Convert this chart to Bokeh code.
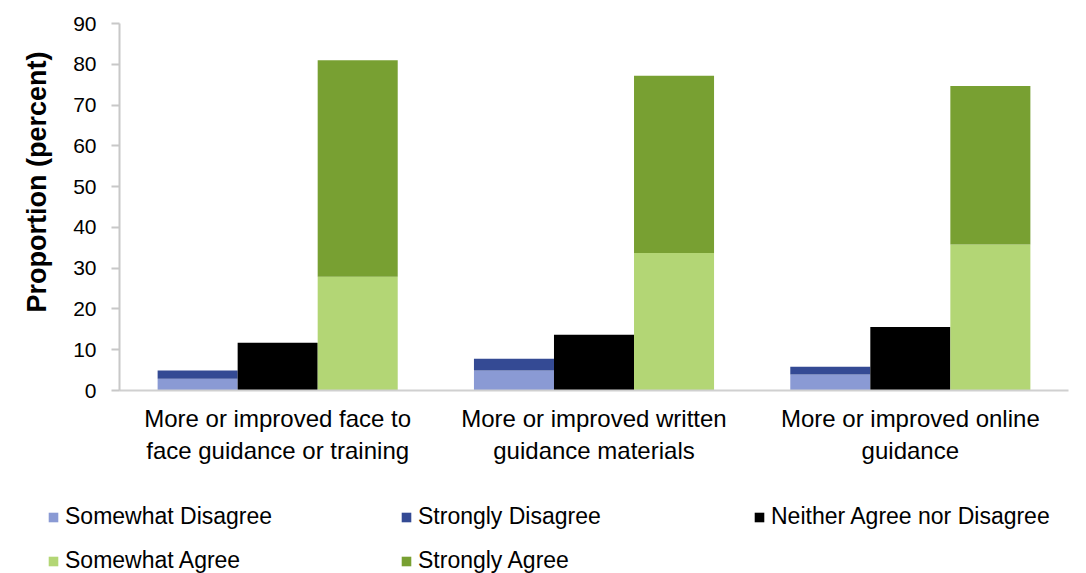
from bokeh.plotting import figure
from bokeh.models import ColumnDataSource, FactorRange, Range1d, Legend, LegendItem, Title
from bokeh.transform import dodge
from bokeh.layouts import column
from bokeh.embed import file_html
from bokeh.resources import INLINE

categories = [
    "More or improved face to\nface guidance or training",
    "More or improved written\nguidance materials",
    "More or improved online\nguidance",
]
somewhat_disagree = [2.9, 4.9, 3.9]
strongly_disagree = [2.0, 2.9, 1.9]
neither = [11.7, 13.7, 15.6]
somewhat_agree = [27.9, 33.7, 35.8]
strongly_agree = [53.1, 43.5, 38.9]
y_ticks = [0, 10, 20, 30, 40, 50, 60, 70, 80, 90]

series_names = ["Somewhat Disagree", "Strongly Disagree", "Neither Agree nor Disagree",
                "Somewhat Agree", "Strongly Agree"]
colors = ["#8A9AD4", "#344A94", "#000000", "#B3D675", "#78A032"]

src = ColumnDataSource(dict(
    cat=categories, sd=somewhat_disagree, std=strongly_disagree,
    nei=neither, sa=somewhat_agree, sta=strongly_agree,
))

FONT = "Liberation Sans"

p = figure(width=1080, height=470, output_backend="svg", toolbar_location=None,
           x_range=FactorRange(*categories), y_range=Range1d(0, 90),
           min_border_left=119, min_border_right=12, min_border_top=23,
           min_border_bottom=80)
p.outline_line_color = None
p.xgrid.visible = False
p.ygrid.visible = False

BW = 0.253
p.vbar_stack(["sd", "std"], x=dodge("cat", -BW, range=p.x_range), width=BW,
             source=src, color=colors[0:2], line_color=None)
p.vbar(x="cat", top="nei", width=BW, source=src, color=colors[2], line_color=None)
p.vbar_stack(["sa", "sta"], x=dodge("cat", BW, range=p.x_range), width=BW,
             source=src, color=colors[3:5], line_color=None)

# y axis
p.yaxis.ticker = y_ticks
p.yaxis.major_label_text_font = FONT
p.yaxis.major_label_text_font_size = "21px"
p.yaxis.major_label_text_color = "#000000"
p.yaxis.major_label_standoff = 15
p.yaxis.axis_line_color = "#C8C8C8"
p.yaxis.axis_line_width = 2
p.yaxis.major_tick_line_color = "#C8C8C8"
p.yaxis.major_tick_line_width = 2
p.yaxis.major_tick_out = 8
p.yaxis.major_tick_in = 0
p.yaxis.minor_tick_line_color = None

ytitle = Title(text="Proportion (percent)", align="left", offset=78, standoff=38,
               vertical_align="bottom",
               text_font=FONT, text_font_style="bold", text_font_size="27px",
               text_color="#000000")
p.add_layout(ytitle, "left")

# x axis
p.xaxis.major_label_text_font = FONT
p.xaxis.major_label_text_font_size = "24px"
p.xaxis.major_label_text_color = "#000000"
p.xaxis.major_label_standoff = 8
p.xaxis.axis_line_color = "#D0D0D0"
p.xaxis.axis_line_width = 2
p.xaxis.major_tick_line_color = None
p.xaxis.minor_tick_line_color = None

# legend panel (swatch renderers sit outside the visible range)
lg = figure(width=1080, height=103, output_backend="svg", toolbar_location=None,
            x_range=Range1d(0, 1), y_range=Range1d(0, 1),
            x_axis_location=None, y_axis_location=None,
            min_border_left=0, min_border_right=0, min_border_top=0, min_border_bottom=0)
lg.grid.visible = False
lg.outline_line_color = None
swatches = {n: lg.vbar(x=[5], top=[5], bottom=[4], width=0.1, color=c, line_color=None)
            for n, c in zip(series_names, colors)}
# legend fills column by column: arrange so rows read like the reference
order = ["Somewhat Disagree", "Somewhat Agree", "Strongly Disagree", "Strongly Agree",
         "Neither Agree nor Disagree"]
items = [LegendItem(label=n, renderers=[swatches[n]]) for n in order]
legend = Legend(items=items, ncols=3, location=(47, -1),
                glyph_width=12, glyph_height=12, label_standoff=6,
                label_width=318, label_height=20, spacing=17,
                padding=0, margin=0, border_line_color=None,
                background_fill_alpha=0,
                label_text_font=FONT, label_text_font_size="23px",
                label_text_color="#000000")
lg.add_layout(legend)

open("out.html", "w").write(file_html(column(p, column(lg, spacing=0), spacing=0), INLINE))
